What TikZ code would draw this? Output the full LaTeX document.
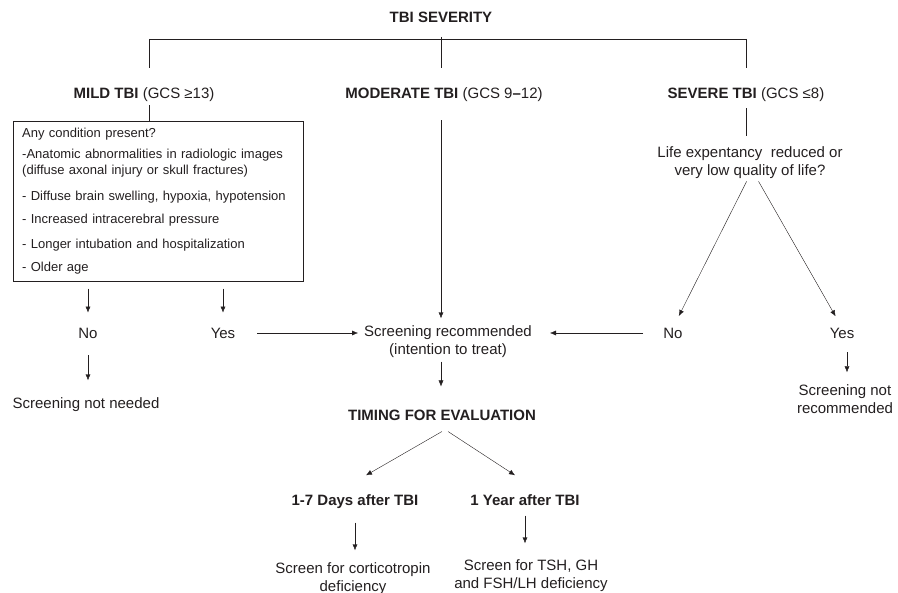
\documentclass[tikz,border=0pt]{standalone}
\usepackage{fontspec}
\setmainfont{Liberation Sans}
\usetikzlibrary{arrows.meta}
\definecolor{ink}{HTML}{231F20}
\tikzset{
    plain-text/.style = {inner sep=0pt, align=center, text=ink, font=\fontsize{15}{18}\selectfont},
    head-text/.style = {plain-text, font=\fontsize{15}{18}\selectfont\bfseries},
    cond-box/.style = {draw=ink, thin, rectangle, text=ink, align=left, text width=272pt, inner xsep=9pt, inner ysep=7pt, font=\fontsize{13}{16}\selectfont},
    link/.style = {draw=ink, thin},
    arrow-link/.style = {link, -{Latex[length=6pt,width=5pt]}},
}

\begin{document}
\begin{tikzpicture}[x=1pt, y=-1pt]
\useasboundingbox (0,0) rectangle (898,593);
\node[head-text] (sev-title) at (441,17) {TBI SEVERITY};
\coordinate (bar-l) at (149,39);
\coordinate (bar-m) at (441,39);
\coordinate (bar-r) at (746,39);
\draw[link] (bar-l) -- (bar-r);

\node[head-text] (mild) at (144,95) {MILD TBI {\mdseries(GCS ≥13)}};
\node[head-text] (modr) at (444,95) {MODERATE TBI {\mdseries(GCS 9}--{\mdseries12)}};
\node[head-text] (sev) at (746,95) {SEVERE TBI {\mdseries(GCS ≤8)}};
\draw[link, shorten >=20pt] (bar-l) -- (bar-l |- mild.north);
\draw[link, shorten >=20pt] ([yshift=2pt]bar-m) -- (bar-m |- modr.north);
\draw[link, shorten >=20pt] (bar-r) -- (bar-r |- sev.north);

\node[cond-box, anchor=north west] (cond) at (13,121) {Any condition present?\\[5pt]
-Anatomic abnormalities in radiologic images\\
(diffuse axonal injury or skull fractures)\\[10pt]
- Diffuse brain swelling, hypoxia, hypotension\\[7pt]
- Increased intracerebral pressure\\[9pt]
- Longer intubation and hospitalization\\[7pt]
- Older age};
\draw[link, shorten <=3pt] (bar-l |- mild.south) -- (bar-l |- cond.north);

\node[plain-text] (mildno) at (88,333) {No};
\node[plain-text] (mildyes) at (223,333) {Yes};
\node[plain-text] (notneeded) at (86,404.5) {Screening not needed};
\node[plain-text] (screen) at (448,341.5) {Screening recommended\\(intention to treat)};
\node[plain-text] (life) at (750,162.5) {Life expentancy\ \ reduced or\\very low quality of life?};
\node[plain-text] (sevno) at (673,333) {No};
\node[plain-text] (sevyes) at (842,333) {Yes};
\node[plain-text] (notrec) at (845,399) {Screening not\\recommended};

\draw[arrow-link, shorten <=7pt, shorten >=15pt] (cond.south -| mildno) -- (mildno.north);
\draw[arrow-link, shorten <=7pt, shorten >=15pt] (cond.south -| mildyes) -- (mildyes.north);
\draw[arrow-link, shorten <=17pt, shorten >=17pt] (mildno.south) -- (mildno.south |- notneeded.north);
\draw[arrow-link, shorten <=22pt, shorten >=6pt] (mildyes.east) -- (mildyes.east -| screen.west);
\draw[arrow-link, shorten <=18pt, shorten >=7pt] (bar-m |- modr.south) -- (bar-m |- screen.north);
\draw[link, shorten <=6pt, shorten >=10pt] (bar-r |- sev.south) -- (bar-r |- life.north);
\draw[arrow-link, shorten <=3pt, shorten >=13pt] ([xshift=-2pt]life.south) -- (sevno.north);
\draw[arrow-link, shorten <=3pt, shorten >=13pt] ([xshift=7pt]life.south) -- (sevyes.north);
\draw[arrow-link, shorten <=20pt, shorten >=18pt] (sevno.west) -- (sevno.west -| screen.east);
\draw[arrow-link, shorten <=14pt, shorten >=12pt] ([xshift=5pt]sevyes.south) -- ([xshift=5pt]sevyes.south |- notrec.north);

\node[head-text] (timing) at (442,415) {TIMING FOR EVALUATION};
\node[head-text] (days) at (355,501.5) {1-7 Days after TBI};
\node[head-text] (year) at (525,500) {1 Year after TBI};
\node[plain-text] (cortico) at (353,578.5) {Screen for corticotropin\\deficiency};
\node[plain-text] (tsh) at (531,575.5) {Screen for TSH, GH\\and FSH/LH deficiency};

\draw[arrow-link, shorten <=4pt, shorten >=23pt] (bar-m |- screen.south) -- (bar-m |- timing.north);
\draw[arrow-link] ([yshift=-11pt]timing.south) -- ([xshift=11pt, yshift=19pt]days.north);
\draw[arrow-link] ([xshift=6pt, yshift=-11pt]timing.south) -- ([xshift=-10pt, yshift=19pt]year.north);
\draw[arrow-link, shorten <=14pt, shorten >=12pt] (days.south) -- (days.south |- cortico.north);
\draw[arrow-link, shorten <=10pt, shorten >=16pt] (year.south) -- (year.south |- tsh.north);
\end{tikzpicture}
\end{document}
